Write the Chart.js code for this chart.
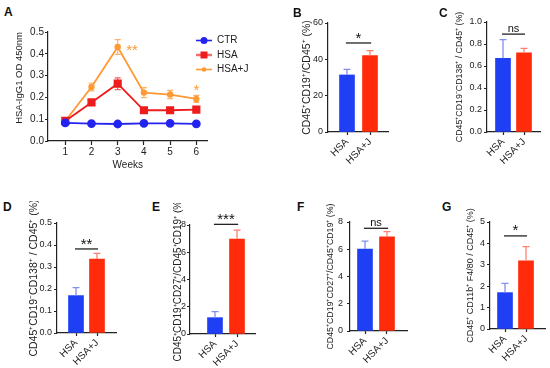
<!DOCTYPE html>
<html>
<head>
<meta charset="utf-8">
<script src="https://cdn.jsdelivr.net/npm/chart.js@4"></script>
<style>
  body { margin: 0; background: #fff; }
  #fig { position: relative; width: 550px; height: 368px; overflow: hidden; font-family: 'Liberation Sans', Arial, sans-serif; }
  #fig canvas { position: absolute; }
  .lbl { position: absolute; font-weight: bold; font-size: 12px; line-height: 1; color: #111; }
</style>
</head>
<body>
<div id="fig"></div>
<script>
  // ---- data ----
  const weeks = [1, 2, 3, 4, 5, 6];
  const ctrOD = [0.083, 0.080, 0.078, 0.081, 0.081, 0.079];
  const ctrErr = [0.003, 0.002, 0.002, 0.002, 0.002, 0.002];
  const hsaOD = [0.092, 0.177, 0.263, 0.141, 0.141, 0.144];
  const hsaErr = [0.005, 0.008, 0.027, 0.006, 0.008, 0.008];
  const hsajOD = [0.092, 0.248, 0.431, 0.222, 0.213, 0.193];
  const hsajErr = [0.005, 0.018, 0.034, 0.023, 0.019, 0.016];
  const odTicks = [0, 0.1, 0.2, 0.3, 0.4, 0.5];
  const aStars = ['**', '*'];
  const aStarWeek = [3.55, 6];
  const aStarOD = [0.436, 0.248];

  const groups = ['HSA', 'HSA+J'];
  const bMeans = [31.4, 42.0], bErrs = [3.1, 2.8], bTicks = [0, 20, 40, 60];
  const cMeans = [0.67, 0.72], cErrs = [0.17, 0.04], cTicks = [0, 0.2, 0.4, 0.6, 0.8, 1.0];
  const dMeans = [0.170, 0.336], dErrs = [0.036, 0.026], dTicks = [0, 0.1, 0.2, 0.3, 0.4, 0.5];
  const eMeans = [1.20, 6.97], eErrs = [0.44, 0.66], eTicks = [0, 2, 4, 6, 8];
  const fMeans = [6.02, 6.92], fErrs = [0.58, 0.37], fTicks = [0, 2, 4, 6, 8];
  const gMeans = [1.70, 3.19], gErrs = [0.43, 0.66], gTicks = [0, 1, 2, 3, 4, 5];
  const sigText = ['*', 'ns', '**', '***', 'ns', '*'];
  const sigLevel = [49, 0.89, 0.382, 8.05, 7.54, 4.35];

  // ---- styles ----
  const blue = '#1f3ff5', red = '#ff2b0b';
  const blueErr = '#8090f0', redErr = '#ff8070';
  const axisCol = '#222';
  Chart.defaults.font.family = "'Liberation Sans', Arial, sans-serif";
  Chart.defaults.color = axisCol;

  const fig = document.getElementById('fig');
  function addCanvas(left, top, w, h) {
    const c = document.createElement('canvas');
    c.width = w; c.height = h;
    c.style.left = left + 'px'; c.style.top = top + 'px';
    c.style.width = w + 'px'; c.style.height = h + 'px';
    fig.appendChild(c);
    return c;
  }
  function addLabel(text, x, capTop) {
    const d = document.createElement('div');
    d.className = 'lbl'; d.textContent = text;
    d.style.left = x + 'px'; d.style.top = (capTop - 1.5) + 'px';
    fig.appendChild(d);
  }
  function drawStar(ctx, text, x, yCenter, size, color) {
    ctx.font = size + 'px "Liberation Sans", Arial, sans-serif';
    ctx.fillStyle = color; ctx.textAlign = 'center'; ctx.textBaseline = 'alphabetic';
    ctx.fillText(text, x, yCenter + size * 0.57);
  }
  // keep the y box at the width we ask for, and stop rotated labels from padding the chart area
  const fixWidth = w => s => { s.width = w; s.paddingLeft = 0; s.paddingRight = 0; };
  const fixHeight = h => s => { s.height = h; s.paddingLeft = 0; s.paddingRight = 0; };

  // ---- panel A ----
  const errPlugin = {
    id: 'lineErrors',
    beforeDatasetsDraw(chart) {
      const {ctx, scales: {y}} = chart;
      ctx.save();
      chart.data.datasets.forEach((ds, di) => {
        const meta = chart.getDatasetMeta(di);
        ctx.strokeStyle = ds.errorColor; ctx.lineWidth = 1.2;
        meta.data.forEach((pt, i) => {
          const v = ds.data[i].y, e = ds.errors[i];
          const y1 = y.getPixelForValue(v - e), y2 = y.getPixelForValue(v + e);
          ctx.beginPath();
          ctx.moveTo(pt.x, y1); ctx.lineTo(pt.x, y2);
          ctx.moveTo(pt.x - 3, y1); ctx.lineTo(pt.x + 3, y1);
          ctx.moveTo(pt.x - 3, y2); ctx.lineTo(pt.x + 3, y2);
          ctx.stroke();
        });
      });
      ctx.restore();
    },
    afterDatasetsDraw(chart) {
      const {ctx, scales: {x, y}} = chart;
      ctx.save();
      aStars.forEach((s, i) => drawStar(ctx, s, x.getPixelForValue(aStarWeek[i]), y.getPixelForValue(aStarOD[i]), 15, '#ff9933'));
      ctx.restore();
    },
    afterLayout(chart) {
      chart.legend.left -= 16; chart.legend.right -= 16; chart.legend.top -= 1;
    }
  };

  function legendIcon(color, shape) {
    const c = document.createElement('canvas');
    c.width = 16; c.height = 9;
    const g = c.getContext('2d');
    g.strokeStyle = color; g.fillStyle = color; g.lineWidth = 1.6;
    g.beginPath(); g.moveTo(0, 4.5); g.lineTo(16, 4.5); g.stroke();
    g.beginPath();
    if (shape === 'rect') g.rect(4.5, 1, 7, 7);
    else g.arc(8, 4.5, shape === 'big' ? 3.5 : 2.3, 0, Math.PI * 2);
    g.fill();
    return c;
  }

  (function () {
    const axisX = 48, top = 32, bottom = 141, right = 205, w1 = 65, w6 = 194;
    const yW = 34, padTop = 17, xH = 30, legendW = 67;
    const left = axisX - yW, cTop = top - padTop;
    const unit = (w6 - w1) / 5;
    const cv = addCanvas(left, cTop, right - left + legendW, bottom - cTop + xH);
    const icons = [legendIcon('#2424f0', 'big'), legendIcon('#ee1c1c', 'rect'), legendIcon('#ff9933', 'small')];
    const pts = arr => weeks.map((w, i) => ({x: w, y: arr[i]}));
    new Chart(cv, {
      type: 'line',
      data: {
        datasets: [
          {label: 'CTR', data: pts(ctrOD), errors: ctrErr, errorColor: '#6b6bf5', borderColor: '#2424f0', backgroundColor: '#2424f0',
           borderWidth: 1.8, pointStyle: 'circle', pointRadius: 3.5},
          {label: 'HSA', data: pts(hsaOD), errors: hsaErr, errorColor: '#f06060', borderColor: '#ee1c1c', backgroundColor: '#ee1c1c',
           borderWidth: 1.8, pointStyle: 'rect', pointRadius: 4.5},
          {label: 'HSA+J', data: pts(hsajOD), errors: hsajErr, errorColor: '#ffb366', borderColor: '#ff9933', backgroundColor: '#ff9933',
           borderWidth: 1.8, pointStyle: 'circle', pointRadius: 2.3}
        ]
      },
      options: {
        responsive: false,
        animation: false,
        layout: {padding: {top: padTop, left: 0, right: 0, bottom: 0}},
        plugins: {
          tooltip: {enabled: false},
          legend: {
            position: 'right', align: 'start',
            labels: {
              usePointStyle: true, pointStyleWidth: 16, boxHeight: 10, padding: 4.5,
              font: {size: 10}, color: axisCol,
              generateLabels: chart => Chart.defaults.plugins.legend.labels.generateLabels(chart)
                .map((it, i) => Object.assign(it, {pointStyle: icons[i]}))
            }
          }
        },
        scales: {
          x: {
            type: 'linear', offset: false, min: 1 - (w1 - axisX) / unit, max: 6 + (right - w6) / unit,
            afterBuildTicks: s => { s.ticks = weeks.map(v => ({value: v})); },
            afterFit: fixHeight(xH),
            ticks: {font: {size: 10}, padding: 1, maxRotation: 0, color: axisCol},
            grid: {drawOnChartArea: false, tickLength: 4, color: axisCol, tickWidth: 1.2},
            border: {color: axisCol, width: 1.2},
            title: {display: true, text: 'Weeks', font: {size: 10}, padding: 0, color: axisCol}
          },
          y: {
            min: 0, max: odTicks[odTicks.length - 1],
            afterBuildTicks: s => { s.ticks = odTicks.map(v => ({value: v})); },
            afterFit: fixWidth(yW),
            ticks: {font: {size: 10}, padding: 1, callback: v => v.toFixed(1), color: axisCol},
            grid: {drawOnChartArea: false, tickLength: 3, color: axisCol, tickWidth: 1.2},
            border: {color: axisCol, width: 1.2},
            title: {display: true, text: 'HSA-IgG1 OD 450nm', align: 'end', font: {size: 9.5}, padding: 0, color: axisCol}
          }
        }
      },
      plugins: [errPlugin]
    });
    addLabel('A', 4, 7);
  })();

  // ---- bar panels ----
  const barExtras = {
    id: 'barExtras',
    afterDatasetsDraw(chart, args, opts) {
      const {ctx, scales: {x, y}} = chart;
      const ds = chart.data.datasets[0];
      const meta = chart.getDatasetMeta(0);
      ctx.save();
      meta.data.forEach((bar, i) => {
        const t = y.getPixelForValue(ds.data[i].y + ds.errors[i]);
        ctx.strokeStyle = ds.errorColors[i]; ctx.lineWidth = 1.3;
        ctx.beginPath();
        ctx.moveTo(bar.x, bar.y); ctx.lineTo(bar.x, t);
        ctx.moveTo(bar.x - 3.5, t); ctx.lineTo(bar.x + 3.5, t);
        ctx.stroke();
      });
      const ly = y.getPixelForValue(opts.level);
      const x1 = x.getPixelForValue(0.95), x2 = x.getPixelForValue(2.05);
      ctx.strokeStyle = '#111'; ctx.lineWidth = 1.2;
      ctx.beginPath(); ctx.moveTo(x1, ly); ctx.lineTo(x2, ly); ctx.stroke();
      const xm = (x1 + x2) / 2;
      if (opts.text === 'ns') {
        ctx.font = '11px "Liberation Sans", Arial, sans-serif';
        ctx.fillStyle = '#111'; ctx.textAlign = 'center'; ctx.textBaseline = 'alphabetic';
        ctx.fillText('ns', xm, ly - 2.5);
      } else {
        drawStar(ctx, opts.text, xm, ly - 9, 15, '#111');
      }
      ctx.restore();
    }
  };

  function barPanel(p) {
    const lh = p.titleSize * 1.2;
    const yW = Math.round(p.titleDist + lh / 2);
    const padTop = 22, xH = 50;
    const left = p.axisX - yW, cTop = p.top - padTop;
    const unit = p.c2 - p.c1;
    const cv = addCanvas(left, cTop, p.right - left + 4, p.bottom - cTop + xH);
    new Chart(cv, {
      type: 'bar',
      data: {
        datasets: [{
          data: p.means.map((v, i) => ({x: i + 1, y: v})),
          errors: p.errs,
          backgroundColor: [blue, red],
          errorColors: [blueErr, redErr],
          barThickness: 15
        }]
      },
      options: {
        responsive: false,
        animation: false,
        layout: {padding: {top: padTop, right: 4, left: 0, bottom: 0}},
        plugins: {legend: {display: false}, tooltip: {enabled: false}, barExtras: {text: p.sig, level: p.level}},
        scales: {
          x: {
            type: 'linear', offset: false, min: 1 - (p.c1 - p.axisX) / unit, max: 2 + (p.right - p.c2) / unit,
            afterBuildTicks: s => { s.ticks = [{value: 1}, {value: 2}]; },
            afterFit: fixHeight(xH),
            ticks: {callback: v => groups[v - 1], minRotation: 45, maxRotation: 45, autoSkip: false, font: {size: 10}, padding: 1, color: axisCol},
            grid: {offset: false, drawOnChartArea: false, tickLength: 3, color: axisCol, tickWidth: 1.2},
            border: {color: axisCol, width: 1.2}
          },
          y: {
            min: 0, max: p.ticks[p.ticks.length - 1],
            afterBuildTicks: s => { s.ticks = p.ticks.map(v => ({value: v})); },
            afterFit: fixWidth(yW),
            ticks: {callback: v => v.toFixed(p.dec), font: {size: 9}, padding: p.tickPad, color: axisCol},
            grid: {drawOnChartArea: false, tickLength: 3, color: axisCol, tickWidth: 1.2},
            border: {color: axisCol, width: 1.2},
            title: {display: true, text: p.title, font: {size: p.titleSize}, padding: 0, color: axisCol}
          }
        }
      },
      plugins: [barExtras]
    });
    addLabel(p.label, p.lx, p.ly);
  }

  const t19 = 'CD45\u207ACD19\u207A/CD45\u207A (%)';
  const t138 = 'CD45\u207ACD19\u207BCD138\u207A / CD45\u207A (%)';
  const t27 = 'CD45\u207ACD19\u207ACD27\u207A/CD45\u207ACD19\u207A (%)';
  const tF480 = 'CD45\u207A CD11b\u207A F4/80 / CD45\u207A (%)';

  barPanel({label: 'B', lx: 293, ly: 8, axisX: 328, top: 23, bottom: 132, right: 388, c1: 347, c2: 370,
    means: bMeans, errs: bErrs, ticks: bTicks, dec: 0, title: t19, titleSize: 10.5, titleDist: 21, tickPad: 2, sig: sigText[0], level: sigLevel[0]});
  barPanel({label: 'C', lx: 439, ly: 8, axisX: 487, top: 22, bottom: 132, right: 540, c1: 503, c2: 524,
    means: cMeans, errs: cErrs, ticks: cTicks, dec: 1, title: t138, titleSize: 8.8, titleDist: 28, tickPad: 2, sig: sigText[1], level: sigLevel[1]});
  barPanel({label: 'D', lx: 3, ly: 202, axisX: 57, top: 223, bottom: 333, right: 116, c1: 76, c2: 97,
    means: dMeans, errs: dErrs, ticks: dTicks, dec: 1, title: t138, titleSize: 10.5, titleDist: 23, tickPad: 2, sig: sigText[2], level: sigLevel[2]});
  barPanel({label: 'E', lx: 152, ly: 202, axisX: 190, top: 225, bottom: 334, right: 255, c1: 215, c2: 237,
    means: eMeans, errs: eErrs, ticks: eTicks, dec: 0, title: t27, titleSize: 10, titleDist: 12, tickPad: 1, sig: sigText[3], level: sigLevel[3]});
  barPanel({label: 'F', lx: 297, ly: 202, axisX: 350, top: 222, bottom: 331, right: 407, c1: 365, c2: 387,
    means: fMeans, errs: fErrs, ticks: fTicks, dec: 0, title: t27, titleSize: 8.8, titleDist: 20, tickPad: 4, sig: sigText[4], level: sigLevel[4]});
  barPanel({label: 'G', lx: 442, ly: 202, axisX: 490, top: 222, bottom: 329, right: 545, c1: 505, c2: 526,
    means: gMeans, errs: gErrs, ticks: gTicks, dec: 0, title: tF480, titleSize: 9, titleDist: 20, tickPad: 2, sig: sigText[5], level: sigLevel[5]});
</script>
</body>
</html>
